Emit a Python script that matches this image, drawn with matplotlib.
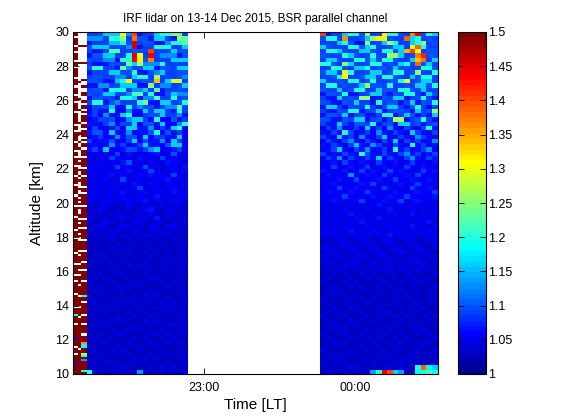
import numpy as np
import matplotlib
matplotlib.use('Agg')
import matplotlib.pyplot as plt
from matplotlib.colors import ListedColormap

plt.rcParams['font.family'] = ['Liberation Sans', 'DejaVu Sans']

# ---------------- data ----------------
# BSR value codes: each character is one cell, LEVELS[k] -> 1.00 + 0.01*k (1.00 .. 1.50),
# '#' = saturated (> 1.5), '.' = no data
LEVELS = '0123456789abcdefghijklmnopqrstuvwxyzABCDEFGHIJKLMNO'
SATURATED = 1.6

# altitude range [km] of the main grids (0.25 km bins)
alt_bottom, alt_top, n_alt = 10.0, 30.0, 80

# time in minutes relative to 23:00 LT
time_edges_first = [-52.17, -49.79, -48.88, -46.61]          # three first (noisy) profiles
time_left_start, time_left_step, n_left = -46.61, 2.236, 18    # first block
time_right_start, time_right_step, n_right = 46.10, 2.224, 21  # second block

# first three profiles (0.125 km bins), written from 30 km (top) down to 10 km
first_col_a = ("##.###.##.###.##.###" "#.###.###.##.####.##" "###.##.####.###.##.#"
               "##.####.###.####.###" "#.####.#####.###.###" "###.####.####.##.###"
               "##.#####.###k###.###" "###6###.##.####6####")
first_col_b = ("......#.......#....." "...#.......#....#..." "..#....#...#..#....#"
               ".#..#..#.#...#..#.#." "#.#..##.#.#.##.#..##" "##.#.###.##.#.####.#"
               "###.####.####.######" "########.###########")
first_col_c = ("......#.......#....." "..#..#..##..#.##.#.#" "##.##.###.#.##.###.#"
               "###.###.####.##.####" "#.#####.###.#####.##" "##.####.###.####.###"
               "###k##.#####.###.###" "#.###Aii##sk#e####k#")

# first block (18 profiles), rows from 30 km (top) to 10 km (bottom)
bsr_left = [
    "99agggudE799gkkpn9", "ddd9kkq9Caa7gg97pn", "7999ffkaJ9aa77dkkm", "agggaa9dK799kkk99g",
    "977amm99aa9E999gaa", "7aagg99kJu9I9ddd7a", "a99dd7kkHwaB999ggg", "9777a99ogrdddk9999",
    "akk997od9agg7aa9gg", "7999ggaak77adg99aa", "9aa99dd9gkk9r999ad", "aa977gkw99aay9gtt9",
    "77dd9aggg77p9dd9ag", "9aa7kkk9ddg9m799a9", "a99gg9admm9k77agdd", "7aa997kkg7ddm99k9a",
    "9kk7ad999ko77gg9ak", "799ag77k9daa79ddm9", "6977k66d77g9gg97k9", "796d77gk669aag99d7",
    "6799a67dgg97k66a79", "7669d799g6aa7g66dk", "69667a6gg77d697gk6", "7aa6g77d677ak6a796",
    "67966d7aa6g69977g6", "9677a669g6a77d6g96", "6766d79669g776agg6", "796g667aa79dg66796",
    "564659476546754a56", "645696564756495645", "4565647a5646547564", "5645495646a5645647",
    "655646574569546556", "546575645647564954", "455645954654657465", "564554647546546546",
    "456465456945645654", "545564754564564745", "464545645645745465", "545654564574554654",
    "434543464354353453", "345434353467435434", "434345434536434543", "543434543454734345",
    "434543436543453434", "345434543435436543", "434354345434543434", "343443534354345343",
    "334343343433433433", "343334334343343343", "433343433334334334", "334334343343433343",
    "343433334334334334", "334343433343343433", "433334343433334343", "343343334334343334",
    "334334433343334343", "343433343334433334", "433343334343343433", "334334343433334343",
    "343343433334343334", "334433334343433343", "433343343334334334", "343334434343343433",
    "334343333433434334", "343433343343334343", "433334334334343334", "334343433343433343",
    "343433334334334434", "433343343433343343", "334334433334434334", "343343334343343433",
    "334433343334334343", "433334334343433334", "343343433433343343", "334334343334334334",
    "343433334343433343", "433343343433334334", "334334433334343433", "k43343343e43343334",
]

# second block (21 profiles), rows from 30 km (top) to 10 km (bottom)
bsr_right = [
    "E799gkkap9aukka9AJakg", "akk9A99agpwwa99Dgk9a9", "999gka77p9agqk99gkp9a", "ga999kkagk99agg9vDk99",
    "9kkga99gga9kkagzEu9aa", "a999kga99ka9qqg9aBGaa", "9gga99kkag9kka99gyC9g", "kka9pg99akk9a9gk9Dag9",
    "99kka9ggk9aa9gaa99kka", "agg9uk99agg9akk9ap99k", "99akw99agg9kka99gakk9", "g99a9kk9ak99aakt9agg9",
    "9kk9a99gqaa9k99a9ggak", "a99g9akk99gaa9kka9g99", "7aa9k779agg97a9kk97ga", "977g9a9pp77a9gg79ak97",
    "a977a9g997k9aa79g7a9k", "7gg97a99k97agg97ak97a", "977a9kk79ag79aa97g9aq", "7aa9g79a779kk79ga797g",
    "a977a9gg79a79rr79ak97", "977g97aa9k79a7gg9a79a", "697d6796g796d769769k7", "7697k96796d76976g9769",
    "976g796d769g76976d976", "69769d7697697g697967d", "769769g76d976976k7967", "679g7697d6796k79679d6",
    "9676976k9769769d79679", "697d697697g69769d7697", "567596576596575695657", "659657569567565965765",
    "765675695765967565967", "57656d567659656759656", "655765965675695676575", "567556576956567569656",
    "656965756569756595675", "575657659656576567569", "656596565765765965657", "567656596567569567565",
    "454645464574546454645", "545464546454745464546", "464547454645464574545", "546454645474546454654",
    "454645474546454645474", "545464546454645474546", "464547454645464545464", "546454645464745464545",
    "434543454345434543454", "343454345434543454345", "454345434543454345434", "345434543454345434543",
    "443543445345434354344", "354434534443543445434", "434354443534435443534", "343443534344534435443",
    "334343343433433434334", "343334334343343343343", "433343433334334334433", "334334343343433343334",
    "343433334334334334343", "334343433343343433334", "433334343433334343343", "343343334334343334334",
    "334334433343334343433", "343433343334433334343", "433343334343343433334", "334334343433334343343",
    "343343433334343334334", "334433334343433343433", "433343343334334334343", "343334434343343433334",
    "334343333433434334343", "343433343343334343433", "433334334334343334334", "334343433343433343343",
    "343433334334334434334", "433343343433343343433", "33433443333443433kDig", "343343343ekJEge33ikmi",
]

cbar_ticks = [1.0, 1.05, 1.1, 1.15, 1.2, 1.25, 1.3, 1.35, 1.4, 1.45, 1.5]
alt_ticks = [10, 12, 14, 16, 18, 20, 22, 24, 26, 28, 30]
time_ticks = [0, 60]
time_tick_labels = ['23:00', '00:00']
title_text = 'IRF lidar on 13-14 Dec 2015, BSR parallel channel'


def decode(s):
    out = []
    for ch in s:
        if ch == '.':
            out.append(np.nan)
        elif ch == '#':
            out.append(SATURATED)
        else:
            out.append(1.0 + 0.01 * LEVELS.index(ch))
    return out


def grid_from_rows(rows, ncols):
    rows = [(r + r[-1] * ncols)[:ncols] for r in rows]
    return np.array([decode(r) for r in rows])[::-1]   # bottom row first


def matlab_jet(n=64):
    m = int(np.ceil(n / 4))
    u = np.concatenate([np.arange(1, m + 1) / m, np.ones(m - 1), np.arange(m, 0, -1) / m])
    g = int(np.ceil(m / 2)) - (1 if n % 4 == 1 else 0) + np.arange(1, len(u) + 1)
    r = g + m
    b = g - m
    rgb = np.zeros((n, 3))
    for ch, idx in ((0, r), (1, g), (2, b)):
        ok = (idx >= 1) & (idx <= n)
        rgb[idx[ok] - 1, ch] = u[ok]
    return ListedColormap(rgb)


cmap = matlab_jet(64)
cmap.set_bad((1, 1, 1, 0))

alt_edges = np.linspace(alt_bottom, alt_top, n_alt + 1)
Z_left = grid_from_rows(bsr_left, n_left)
Z_right = grid_from_rows(bsr_right, n_right)
t_left = time_left_start + time_left_step * np.arange(n_left + 1)
t_right = time_right_start + time_right_step * np.arange(n_right + 1)

# ---------------- figure ----------------
W, H = 561, 420
fig = plt.figure(figsize=(W / 100, H / 100), dpi=100)
ax = fig.add_axes([72.5 / W, (H - 374) / H, (438 - 72.5) / W, (374 - 32) / H])

kw = dict(cmap=cmap, vmin=1.0, vmax=1.5, shading='flat', antialiased=False, edgecolors='none')
for i, col in enumerate([first_col_a, first_col_b, first_col_c]):
    vals = np.array(decode(col))[::-1].reshape(-1, 1)
    edges = np.linspace(alt_bottom, alt_top, len(col) + 1)
    ax.pcolormesh(time_edges_first[i:i + 2], edges, np.ma.masked_invalid(vals), **kw)
ax.pcolormesh(t_left, alt_edges, np.ma.masked_invalid(Z_left), **kw)
mesh = ax.pcolormesh(t_right, alt_edges, np.ma.masked_invalid(Z_right), **kw)

ax.set_xlim(time_edges_first[0], 92.98)
ax.set_ylim(alt_bottom, alt_top)
ax.set_yticks(alt_ticks)
ax.set_xticks(time_ticks)
ax.set_xticklabels(time_tick_labels)
ax.set_axisbelow(True)
ax.tick_params(direction='in', top=True, right=True, length=4, width=0.6,
               labelsize=9, colors='black')
ax.tick_params(axis='x', pad=6)
ax.tick_params(axis='y', pad=2.5)
for sp in ax.spines.values():
    sp.set_linewidth(0.8)

ax.set_xlabel('Time [LT]', fontsize=11, labelpad=3)
ax.set_ylabel('Altitude [km]', fontsize=11, labelpad=8)
ax.set_title(title_text, fontsize=8.5, pad=7)

cax = fig.add_axes([458 / W, (H - 374) / H, 27.5 / W, (374 - 32) / H])
cb = fig.colorbar(mesh, cax=cax, ticks=cbar_ticks)
cb.ax.set_yticklabels(['%g' % v for v in cbar_ticks])
cb.ax.tick_params(direction='in', left=True, right=True, length=4, width=0.6,
                  labelsize=9, pad=1.5)
cb.outline.set_linewidth(0.8)

fig.savefig('out.png', dpi=100)
